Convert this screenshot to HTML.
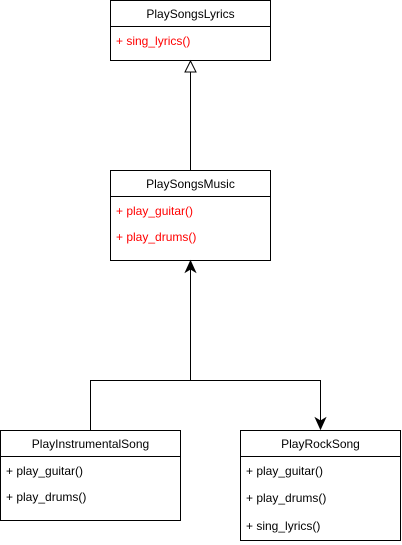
<!DOCTYPE html>
<html><head><style>body{margin:0;background:#fff}svg{display:block}text{font-family:"Liberation Sans",Arial,sans-serif;font-size:12px}</style></head><body>
<svg width="402" height="545" viewBox="0 0 402 545">
<g fill="#fff" stroke="#000" stroke-width="1">
<rect x="110.5" y="0.5" width="160" height="60"/><line x1="110.5" y1="26.5" x2="270.5" y2="26.5"/>
<rect x="110.5" y="170.5" width="160" height="90"/><line x1="110.5" y1="196.5" x2="270.5" y2="196.5"/>
<rect x="0.5" y="430.5" width="180" height="90"/><line x1="0.5" y1="456.5" x2="180.5" y2="456.5"/>
<rect x="240.5" y="430.5" width="160" height="110"/><line x1="240.5" y1="456.5" x2="400.5" y2="456.5"/>
</g>
<g stroke="#000" fill="none">
<line x1="190.5" y1="72" x2="190.5" y2="170"/>
<polyline points="90.5,430 90.5,380.5 320.5,380.5 320.5,422"/>
<line x1="190.5" y1="380" x2="190.5" y2="268"/>
</g>
<polygon points="190.5,61 185,72 196,72" fill="#fff" stroke="#000"/>
<polygon points="190.5,261 185.5,272 190.5,269 195.5,272" fill="#000" stroke="#000"/>
<polygon points="320.5,429 315.5,418 320.5,421 325.5,418" fill="#000" stroke="#000"/>
<g text-anchor="middle" fill="#000">
<text x="190.5" y="18">PlaySongsLyrics</text>
<text x="190.5" y="188">PlaySongsMusic</text>
<text x="90.5" y="448">PlayInstrumentalSong</text>
<text x="320.5" y="448">PlayRockSong</text>
</g>
<g fill="#f00">
<text x="116" y="45">+ sing_lyrics()</text>
<text x="116" y="215">+ play_guitar()</text>
<text x="116" y="241">+ play_drums()</text>
</g>
<g fill="#000">
<text x="6" y="475">+ play_guitar()</text>
<text x="6" y="501">+ play_drums()</text>
<text x="246" y="475">+ play_guitar()</text>
<text x="246" y="502">+ play_drums()</text>
<text x="246" y="530">+ sing_lyrics()</text>
</g>
</svg>
</body></html>
